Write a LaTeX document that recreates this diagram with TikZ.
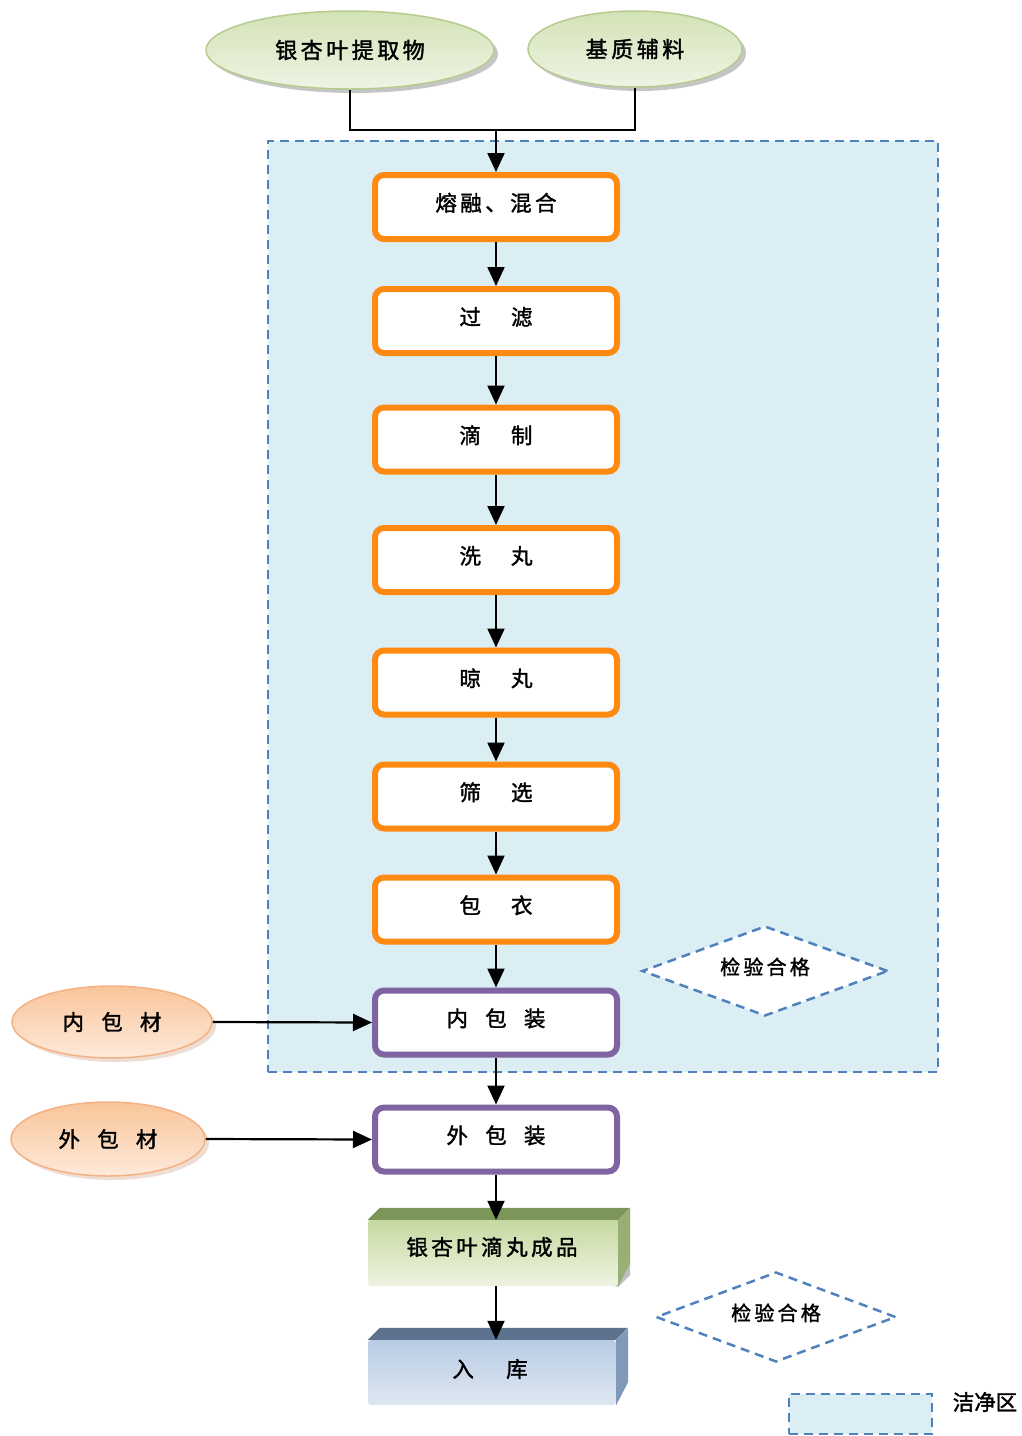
\documentclass[tikz,border=0pt]{standalone}
\usepackage{fontspec}
\newfontfamily\cjk[AutoFakeBold=1.6]{Noto Sans CJK SC}
\newfontfamily\cjks[AutoFakeBold=1.6,LetterSpace=16]{Noto Sans CJK SC}
\usetikzlibrary{shapes.geometric,arrows.meta,shadows}
\definecolor{orangeC}{HTML}{FF8A12}
\definecolor{purpleC}{HTML}{8064A2}
\definecolor{dashblue}{HTML}{4F81BD}
\definecolor{zonefill}{HTML}{DAEEF3}
\definecolor{gEdge}{HTML}{B5CC8E}
\definecolor{gTop}{HTML}{D3E2B6}
\definecolor{gBot}{HTML}{EEF4E4}
\definecolor{oEdge}{HTML}{F4B183}
\definecolor{oTop}{HTML}{F9C59A}
\definecolor{oBot}{HTML}{FDEADB}
\begin{document}
\begin{tikzpicture}[x=1pt,y=-1pt,
  proc/.style={draw=orangeC, line width=6pt, rounded corners=9pt, fill=white,
    minimum width=242pt, minimum height=64pt, inner sep=0pt,
    text height=19pt, text depth=11pt,
    font=\cjk\bfseries\fontsize{21.5}{21.5}\selectfont},
  pack/.style={proc, draw=purpleC},
  arr/.style={-{Triangle[length=19pt,width=17pt]}, line width=2.2pt, black},
  conn/.style={line width=2.2pt, black},
  zonebox/.style={draw=dashblue, line width=2.5pt, dash pattern=on 9pt off 6pt, fill=zonefill, inner sep=0pt},
  greenell/.style={ellipse, draw=gEdge, line width=1.5pt, top color=gTop, bottom color=gBot,
    drop shadow={shadow xshift=4pt, shadow yshift=-4pt, fill=black!45},
    inner sep=0pt, font=\cjks\bfseries\fontsize{22}{22}\selectfont},
  orangeell/.style={ellipse, draw=oEdge, line width=1.5pt, top color=oTop, bottom color=oBot,
    drop shadow={shadow xshift=4pt, shadow yshift=-4pt, fill=oEdge!80!black!60},
    inner sep=0pt, font=\cjk\bfseries\fontsize{21.5}{21.5}\selectfont},
  check/.style={diamond, aspect=2.7, draw=dashblue, line width=2.5pt, dash pattern=on 9pt off 6pt,
    inner sep=0pt, text height=18pt, text depth=11pt, font=\cjks\bfseries\fontsize{20}{20}\selectfont},
  face/.style={inner sep=0pt, rounded corners=3pt}
]
\useasboundingbox (0,0) rectangle (1022,1436);

% clean zone
\node[zonebox, minimum width=670pt, minimum height=931pt] (zone) at (603,606.5) {};

% inputs
\node[greenell, minimum width=288pt, minimum height=78pt] (e1) at (350,50) {银杏叶提取物};
\node[greenell, minimum width=214pt, minimum height=76pt] (e2) at (635,49) {基质辅料};

% process boxes
\node[proc, font=\cjks\bfseries\fontsize{21.5}{21.5}\selectfont] (b1) at (496,207) {熔融、混合};
\node[proc] (b2) at (496,321) {过\hspace{1.4em}滤};
\node[proc] (b3) at (496,439.5) {滴\hspace{1.4em}制};
\node[proc] (b4) at (496,560) {洗\hspace{1.4em}丸};
\node[proc] (b5) at (496,682.5) {晾\hspace{1.4em}丸};
\node[proc] (b6) at (496,796.5) {筛\hspace{1.4em}选};
\node[proc] (b7) at (496,909.5) {包\hspace{1.4em}衣};
\node[pack] (b8) at (496,1022.5) {内\hspace{0.8em}包\hspace{0.8em}装};
\node[pack] (b9) at (496,1139.5) {外\hspace{0.8em}包\hspace{0.8em}装};

% packaging materials
\node[orangeell, minimum width=200pt, minimum height=72pt] (e3) at (112,1022) {内\hspace{0.8em}包\hspace{0.8em}材};
\node[orangeell, minimum width=194pt, minimum height=74pt] (e4) at (108,1139) {外\hspace{0.8em}包\hspace{0.8em}材};

% 3D box: product
\fill[fill=black!25] (368,1220) -- (380,1208) -- (630,1208) -- (630,1275) -- (618,1287) -- cycle;
\node[face, minimum width=250pt, minimum height=66pt, top color={rgb,255:red,198;green,217;blue,160},
  bottom color={rgb,255:red,238;green,243;blue,226}] (p1) at (493,1253) {};
\fill[fill={rgb,255:red,124;green,150;blue,90}] (p1.north west) -- ++(12,-12) -- ++(250,0) -- (p1.north east) -- cycle;
\fill[fill={rgb,255:red,152;green,176;blue,118}] (p1.north east) -- ++(12,-12) -- ++(0,55) -- (p1.south east) -- cycle;
\node[font=\cjks\bfseries\fontsize{21.5}{21.5}\selectfont] (t1) at (492,1247) {银杏叶滴丸成品};

% 3D box: storage
\node[face, minimum width=248pt, minimum height=65pt, top color={rgb,255:red,184;green,204;blue,228},
  bottom color={rgb,255:red,222;green,231;blue,242}] (p2) at (492,1372.5) {};
\fill[fill={rgb,255:red,92;green,114;blue,142}] (p2.north west) -- ++(12,-12) -- ++(248,0) -- (p2.north east) -- cycle;
\fill[fill={rgb,255:red,128;green,153;blue,184}] (p2.north east) -- ++(12,-12) -- ++(0,54) -- (p2.south east) -- cycle;
\node[font=\cjk\bfseries\fontsize{21.5}{21.5}\selectfont] (t2) at (490,1369) {入\hspace{1.5em}库};

% checks
\node[check, fill=white, minimum width=246pt, minimum height=90pt] (d1) at (765,971) {检验合格};
\node[check, minimum width=240pt, minimum height=90pt] (d2) at (776,1317) {检验合格};

% legend
\node[zonebox, minimum width=143pt, minimum height=40pt] (leg) at (860.5,1414) {};
\node[font=\cjk\bfseries\fontsize{21.5}{21.5}\selectfont] (legt) at (985,1402) {洁净区};

% connectors
\coordinate (m1) at (e1.south |- 0,130);
\coordinate (m2) at (e2.south |- 0,130);
\coordinate (mid) at (b1.north |- 0,130);
\draw[conn] (e1.south) -- (m1) -- (m2) -- (e2.south);
\draw[arr] (mid) -- (b1.north);
\draw[arr] (b1.south) -- (b2.north);
\draw[arr] (b2.south) -- (b3.north);
\draw[arr] (b3.south) -- (b4.north);
\draw[arr] (b4.south) -- (b5.north);
\draw[arr] (b5.south) -- (b6.north);
\draw[arr] (b6.south) -- (b7.north);
\draw[arr] (b7.south) -- (b8.north);
\draw[arr] (b8.south) -- (b9.north);
\draw[arr] (b9.south) -- (p1.north -| b9.south);
\draw[arr] (p1.south -| b9.south) -- (p2.north -| b9.south);
\draw[arr] (e3.east) -- (b8.west);
\draw[arr] (e4.east) -- (b9.west);
\end{tikzpicture}
\end{document}
